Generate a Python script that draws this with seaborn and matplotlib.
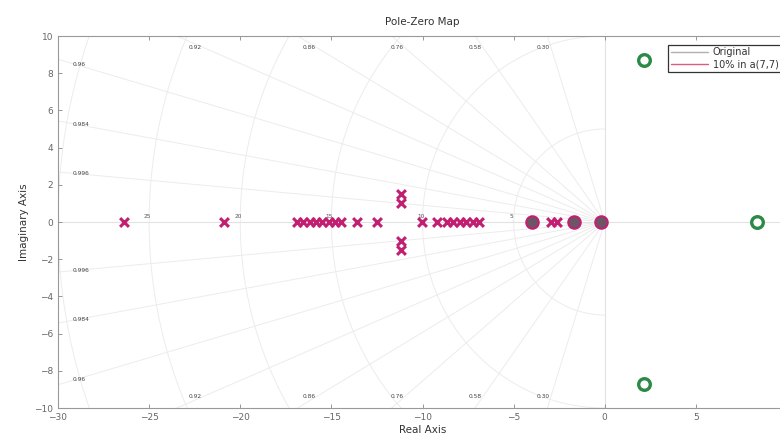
import numpy as np
import matplotlib
matplotlib.use("Agg")
import matplotlib.pyplot as plt
from matplotlib.lines import Line2D
import seaborn as sns
import pandas as pd

sns.set_theme(style="white")
plt.rcParams['font.family'] = ['DejaVu Sans']

# ---- data ----
pole_re = [-26.4, -20.9, -16.9, -16.55, -16.2, -15.85, -15.5, -15.15, -14.8, -14.45,
           -13.6, -12.5, -11.2, -11.2, -11.2, -11.2, -10.05, -9.2,
           -8.65, -8.3, -7.95, -7.6, -7.25, -6.9, -2.95, -2.6]
pole_im = [0, 0, 0, 0, 0, 0, 0, 0, 0, 0,
           0, 0, 1.5, 1.0, -1.0, -1.5, 0, 0,
           0, 0, 0, 0, 0, 0, 0, 0]
zero_re = [-4.0, -1.7, -0.2]
zero_im = [0, 0, 0]
rhp_zero_re = [2.15, 2.15, 8.35]
rhp_zero_im = [8.7, -8.7, 0]
zeta_vals = [0.30, 0.58, 0.76, 0.86, 0.92, 0.96, 0.984, 0.996]
zeta_top = ["0.30", "0.58", "0.76", "0.86", "0.92"]
zeta_left = ["0.96", "0.984", "0.996"]
wn_vals = [5, 10, 15, 20, 25, 30]
wn_labels = ["5", "10", "15", "20", "25"]
xticks = [-30, -25, -20, -15, -10, -5, 0, 5]
yticks = [-10, -8, -6, -4, -2, 0, 2, 4, 6, 8, 10]
legend_labels = ["Original", "10% in a(7,7)"]

grid_c = "#ececec"
mag = "#c21f72"

fig = plt.figure(figsize=(7.8, 4.41), dpi=100)
ax = fig.add_axes([58/780, 1-408/441, 729/780, 372/441])
ax.set_xlim(-30, 10)
ax.set_ylim(-10, 10)

# damping grid
for z in zeta_vals:
    th = np.arccos(z)
    r = 60
    ax.plot([0, -r*np.cos(th)], [0, r*np.sin(th)], color=grid_c, lw=0.7, zorder=0)
    ax.plot([0, -r*np.cos(th)], [0, -r*np.sin(th)], color=grid_c, lw=0.7, zorder=0)
t = np.linspace(np.pi/2, 3*np.pi/2, 300)
for w in wn_vals:
    ax.plot(w*np.cos(t), w*np.sin(t), color=grid_c, lw=0.7, zorder=0)
ax.axhline(0, color="#e2e2e2", lw=0.8, zorder=0)
ax.axvline(0, color="#e2e2e2", lw=0.8, zorder=0)

# grid labels
for z, lab in zip(zeta_vals[:5], zeta_top):
    x = -9.4*z/np.sqrt(1-z*z) - 0.4
    ax.text(x, 9.4, lab, fontsize=4.2, color="#444", ha="center", va="center")
    ax.text(x, -9.4, lab, fontsize=4.2, color="#444", ha="center", va="center")
for z, lab in zip(zeta_vals[5:], zeta_left):
    y = 29*np.sqrt(1-z*z)/z
    ax.text(-29.2, y, lab, fontsize=4.2, color="#444", ha="left", va="center")
    ax.text(-29.2, -y, lab, fontsize=4.2, color="#444", ha="left", va="center")
for w, lab in zip(wn_vals[:5], wn_labels):
    ax.text(-w - 0.1, 0.3, lab, fontsize=4.2, color="#555", ha="center", va="center")

# markers
poles = pd.DataFrame({"re": pole_re, "im": pole_im})
zeros = pd.DataFrame({"re": zero_re, "im": zero_im})
rz = pd.DataFrame({"re": rhp_zero_re, "im": rhp_zero_im})
sns.scatterplot(data=poles, x="re", y="im", marker="x", color=mag, s=40,
                linewidth=2.2, ax=ax, zorder=3)
sns.scatterplot(data=zeros, x="re", y="im", marker="o", color="#6d5664",
                edgecolor=mag, s=80, linewidth=1.5, ax=ax, zorder=3)
sns.scatterplot(data=rz, x="re", y="im", marker="o", color="white",
                edgecolor="#2b8a46", s=70, linewidth=2.4, ax=ax, zorder=3)

# axes styling
ax.set_xticks(xticks)
ax.set_yticks(yticks)
ax.tick_params(axis="both", direction="in", length=3, width=0.6, colors="#888",
               labelsize=6.5, labelcolor="#666", top=True, left=True, bottom=True)
for s in ["top", "bottom", "left"]:
    ax.spines[s].set_color("#999")
    ax.spines[s].set_linewidth(0.8)
ax.spines["right"].set_visible(False)
ax.set_xlabel("Real Axis", fontsize=7.5, color="#333", labelpad=2)
ax.set_ylabel("Imaginary Axis", fontsize=7.5, color="#333", labelpad=4)
ax.set_title("Pole-Zero Map", fontsize=7.5, color="#333", pad=8)

handles = [Line2D([], [], color="#b0b0b0", lw=1),
           Line2D([], [], color="#e05a80", lw=1)]
leg = ax.legend(handles, legend_labels, loc="upper left", bbox_to_anchor=(0.83, 0.99),
                fontsize=7, frameon=True, fancybox=False, edgecolor="black",
                handlelength=3.8, borderpad=0.3, labelspacing=0.2, handletextpad=0.5)
leg.get_frame().set_linewidth(0.9)
for txt in leg.get_texts():
    txt.set_color("#333")

fig.savefig("out.png", dpi=100)
